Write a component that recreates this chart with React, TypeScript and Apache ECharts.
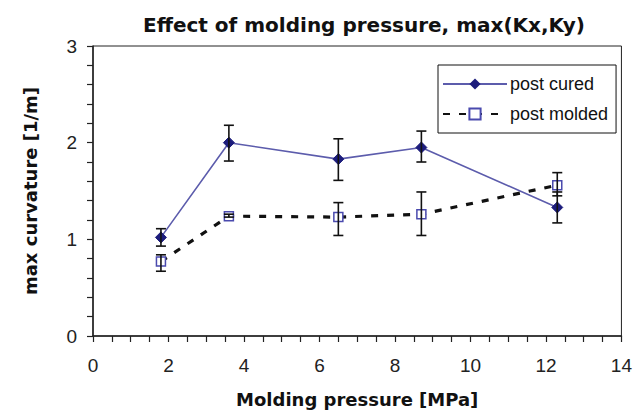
import React, { useEffect, useRef } from "react";
import * as echarts from "echarts";

const pressure = [1.8, 3.6, 6.5, 8.7, 12.3];
const curedMean = [1.02, 2.0, 1.83, 1.95, 1.33];
const curedLow = [0.93, 1.81, 1.61, 1.8, 1.17];
const curedHigh = [1.11, 2.18, 2.04, 2.12, 1.49];
const moldedMean = [0.77, 1.24, 1.23, 1.26, 1.56];
const moldedLow = [0.67, 1.23, 1.04, 1.04, 1.45];
const moldedHigh = [0.84, 1.26, 1.38, 1.49, 1.69];

const SANS = "'Liberation Sans', Arial, sans-serif";
const WIDE = "'DejaVu Sans', 'Liberation Sans', sans-serif";

function errorSeries(low: number[], high: number[]) {
  const data = pressure.map((x, i) => [x, low[i], high[i]]);
  return {
    type: "custom",
    silent: true,
    z: 5,
    data,
    renderItem: (_params: any, api: any) => {
      const x = api.value(0);
      const lo = api.coord([x, api.value(1)]);
      const hi = api.coord([x, api.value(2)]);
      const hw = 5;
      const style = { stroke: "#111", lineWidth: 1.6 };
      return {
        type: "group",
        children: [
          { type: "line", shape: { x1: lo[0], y1: lo[1], x2: hi[0], y2: hi[1] }, style },
          { type: "line", shape: { x1: lo[0] - hw, y1: lo[1], x2: lo[0] + hw, y2: lo[1] }, style },
          { type: "line", shape: { x1: hi[0] - hw, y1: hi[1], x2: hi[0] + hw, y2: hi[1] }, style },
        ],
      };
    },
  };
}

export default function App() {
  const ref = useRef<HTMLDivElement>(null);
  useEffect(() => {
    if (!ref.current) return;
    const chart = echarts.init(ref.current, undefined, { renderer: "svg" });
    chart.setOption({
      animation: false,
      backgroundColor: "#fff",
      title: {
        text: "Effect of molding pressure, max(Kx,Ky)",
        left: 359,
        textAlign: "center",
        top: 10,
        textStyle: { fontFamily: WIDE, fontWeight: "bold", fontSize: 20, color: "#111" },
      },
      legend: {
        left: 438,
        top: 65,
        width: 175,
        orient: "vertical",
        backgroundColor: "#fff",
        borderColor: "#111",
        borderWidth: 1,
        borderRadius: 0,
        padding: [10, 8, 10, 4],
        itemWidth: 64,
        itemHeight: 14,
        itemGap: 12,
        textStyle: { fontFamily: SANS, fontSize: 18, color: "#111", padding: [0, 0, 0, -2] },
        data: ["post cured", "post molded"],
      },
      grid: {
        left: 93,
        right: 11,
        top: 46,
        bottom: 76,
        show: true,
        borderColor: "#222",
        borderWidth: 1,
        backgroundColor: "transparent",
      },
      xAxis: {
        type: "value",
        min: 0,
        max: 14,
        interval: 2,
        name: "Molding pressure [MPa]",
        nameLocation: "middle",
        nameGap: 54,
        nameTextStyle: { fontFamily: WIDE, fontWeight: "bold", fontSize: 18, color: "#111" },
        axisLine: { show: true, onZero: false, lineStyle: { color: "#222", width: 1.5 } },
        axisTick: { show: true, inside: false, length: 6, lineStyle: { color: "#222", width: 1.2 } },
        minorTick: { show: true, splitNumber: 4, length: 6, lineStyle: { color: "#222", width: 1.2 } },
        axisLabel: { fontFamily: SANS, fontSize: 19, color: "#222", margin: 20 },
        splitLine: { show: false },
      },
      yAxis: {
        type: "value",
        min: 0,
        max: 3,
        interval: 1,
        name: "max curvature [1/m]",
        nameLocation: "middle",
        nameGap: 54,
        nameTextStyle: { fontFamily: WIDE, fontWeight: "bold", fontSize: 18, color: "#111" },
        axisLine: { show: true, onZero: false, lineStyle: { color: "#222", width: 1.5 } },
        axisTick: { show: true, inside: false, length: 6, lineStyle: { color: "#222", width: 1.2 } },
        minorTick: { show: true, splitNumber: 5, length: 6, lineStyle: { color: "#222", width: 1.2 } },
        axisLabel: { fontFamily: SANS, fontSize: 19, color: "#222", margin: 16 },
        splitLine: { show: false },
      },
      series: [
        {
          name: "post cured",
          type: "line",
          z: 3,
          data: pressure.map((x, i) => [x, curedMean[i]]),
          symbol: "diamond",
          symbolSize: 11,
          lineStyle: { color: "#5c5cac", width: 1.6 },
          itemStyle: { color: "#1c1c7c", borderColor: "#1c1c7c" },
        },
        {
          name: "post molded",
          type: "line",
          z: 4,
          data: pressure.map((x, i) => [x, moldedMean[i]]),
          symbol: "rect",
          symbolSize: 9,
          lineStyle: { color: "#111", width: 3.2, type: [7, 9] },
          itemStyle: { color: "#fff", borderColor: "#4a4aae", borderWidth: 1.5 },
        },
        errorSeries(curedLow, curedHigh),
        errorSeries(moldedLow, moldedHigh),
      ],
    });
    return () => chart.dispose();
  }, []);
  return (
    <div
      ref={ref}
      style={{ position: "absolute", left: 0, top: 0, width: 635, height: 413 }}
    />
  );
}
